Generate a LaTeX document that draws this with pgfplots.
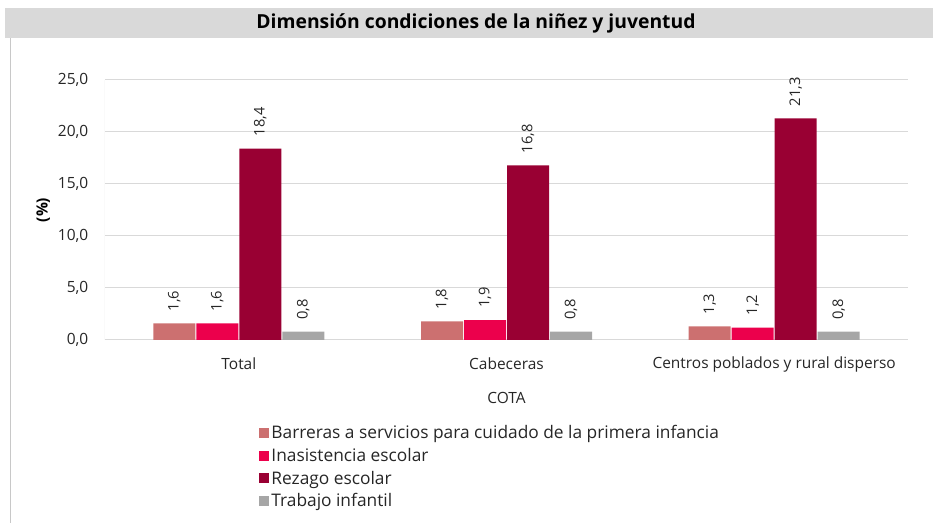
\documentclass[border=0pt]{standalone}
\usepackage{pgfplots}
\pgfplotsset{compat=1.18}
\usepackage{fontspec}
\setmainfont{Open Sans}
\definecolor{barA}{RGB}{204,112,112}
\definecolor{barB}{RGB}{236,0,76}
\definecolor{barC}{RGB}{153,0,51}
\definecolor{barD}{RGB}{166,166,166}
\definecolor{bandgray}{RGB}{217,217,217}
\definecolor{gridgray}{RGB}{217,217,217}
\definecolor{framegray}{RGB}{200,200,200}
\definecolor{txt}{RGB}{38,38,38}

\begin{document}
\begin{tikzpicture}
\useasboundingbox (0,0) rectangle (699.75pt,392.25pt);
% title band
\fill[bandgray] (3.75pt,363.75pt) rectangle (699.75pt,386.25pt);
\node[font=\bfseries\fontsize{14.5}{16}\selectfont, text=black] at (357pt,375pt) {Dimensión condiciones de la niñez y juventud};
\draw[framegray, line width=0.75pt] (7.5pt,0pt) -- (7.5pt,363.75pt);
\begin{axis}[
    at={(78.75pt,137.25pt)}, anchor=south west,
    scale only axis, width=602.25pt, height=195pt,
    ybar=0.75pt, bar width=31.5pt,
    xmin=-0.5, xmax=2.5, ymin=0, ymax=25,
    xtick={0,1,2},
    xticklabels={Total,Cabeceras,Centros poblados y rural disperso},
    ytick={0,5,10,15,20,25},
    ymajorgrids,
    grid style={draw=gridgray, line width=0.75pt},
    axis line style={draw=none},
    major tick length=0pt,
    tick label style={font=\fontsize{11.6}{13}\selectfont, text=txt},
    xticklabel style={anchor=center, yshift=-18pt},
    yticklabel style={anchor=east, xshift=-9pt},
    /pgf/number format/.cd, fixed, fixed zerofill, precision=1, use comma, assume math mode=true,
    /pgfplots/.cd,
    ylabel={(\%)},
    ylabel style={at={(rel axis cs:-0.077,0.5)}, anchor=center, rotate=0, font=\bfseries\fontsize{11.6}{13}\selectfont},
    xlabel={COTA},
    xlabel style={at={(rel axis cs:0.5,-0.223)}, anchor=center, font=\fontsize{11.6}{13}\selectfont, text=txt},
    nodes near coords,
    every node near coord/.append style={rotate=90, anchor=west, inner xsep=9pt,
        font=\fontsize{11}{12}\selectfont, text=txt},
    legend style={at={(rel axis cs:0.187,-0.31)}, anchor=north west, draw=none, fill=none,
        font=\fontsize{13}{14}\selectfont, text=txt, row sep=2.6pt,
        nodes={inner sep=1.5pt}},
    legend cell align=left,
    legend image code/.code={\fill[#1] (0pt,-3.75pt) rectangle (7.5pt,3.75pt);},
]
\addplot[fill=barA, draw=none] coordinates {(0,1.6) (1,1.8) (2,1.3)};
\addlegendentry{Barreras a servicios para cuidado de la primera infancia}
\addplot[fill=barB, draw=none] coordinates {(0,1.6) (1,1.9) (2,1.2)};
\addlegendentry{Inasistencia escolar}
\addplot[fill=barC, draw=none] coordinates {(0,18.4) (1,16.8) (2,21.3)};
\addlegendentry{Rezago escolar}
\addplot[fill=barD, draw=none] coordinates {(0,0.8) (1,0.8) (2,0.8)};
\addlegendentry{Trabajo infantil}
\draw[gridgray, line width=0.75pt] (rel axis cs:0,1) -- (rel axis cs:0,-0.27);
\draw[gridgray, line width=0.75pt] (rel axis cs:1,0) -- (rel axis cs:1,-0.27);
\end{axis}
\end{tikzpicture}
\end{document}
